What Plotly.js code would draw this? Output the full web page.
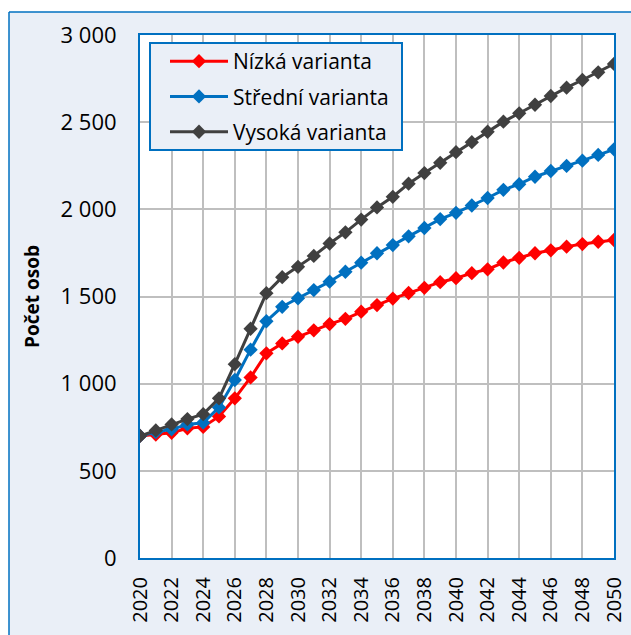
<!DOCTYPE html>
<html>
<head>
<meta charset="utf-8">
<script src="https://cdn.plot.ly/plotly-3.0.1.min.js"></script>
<style>html,body{margin:0;padding:0;background:#fff;}#chart{width:631px;height:635px;}</style>
</head>
<body>
<div id="chart"></div>
<script>
var years = [2020,2021,2022,2023,2024,2025,2026,2027,2028,2029,2030,2031,2032,2033,2034,2035,2036,2037,2038,2039,2040,2041,2042,2043,2044,2045,2046,2047,2048,2049,2050];
var nizka = [700,708,718,744,752,812,916,1036,1174,1231,1269,1306,1342,1372,1413,1451,1488,1520,1550,1582,1605,1634,1656,1695,1722,1748,1765,1786,1801,1814,1824];
var stredni = [700,722,738,766,776,864,1021,1195,1358,1441,1490,1537,1585,1642,1694,1748,1795,1845,1893,1944,1980,2022,2065,2112,2144,2187,2220,2249,2279,2312,2344];
var vysoka = [700,732,766,797,825,916,1112,1315,1519,1611,1670,1733,1804,1868,1941,2011,2072,2147,2208,2267,2328,2385,2445,2503,2551,2600,2650,2698,2742,2786,2834];
var seriesNames = ["Nízká varianta","Střední varianta","Vysoká varianta"];
var seriesColors = ["#FF0000","#0070C0","#404040"];
var yTickVals = [0,500,1000,1500,2000,2500,3000];
var yTickText = ["0","500","1 000","1 500","2 000","2 500","3 000"];

var FONT = "Open Sans, sans-serif";
var data = [nizka, stredni, vysoka].map(function(v,i){
  return {x: years, y: v, type: "scatter", mode: "lines+markers", name: seriesNames[i],
    legendgroup: "g" + i,
    line: {color: seriesColors[i], width: 3},
    marker: {symbol: "diamond", size: 11, color: seriesColors[i]}};
});

// plot area in pixels: x 140..614, y 35..558
var L = 140, R = 614, T = 35, B = 558, W = 631, H = 635;
function px(x){ return (x - L) / (R - L); }
function py(y){ return (B - y) / (B - T); }

var layout = {
  width: W, height: H,
  margin: {l: L, r: W - R, t: T, b: H - B},
  paper_bgcolor: "#EAEFF7",
  plot_bgcolor: "#FFFFFF",
  font: {family: FONT, color: "#000000", size: 20},
  showlegend: true,
  legend: {x: px(165), y: py(41), xanchor: "left", yanchor: "top",
    bgcolor: "rgba(0,0,0,0)", borderwidth: 0, itemwidth: 58,
    font: {family: FONT, size: 21, color: "#000"}, tracegroupgap: 5},
  xaxis: {range: [2020, 2050], tickmode: "linear", tick0: 2020, dtick: 2,
    tickangle: -90, showgrid: true, gridcolor: "#BFBFBF", gridwidth: 2,
    showline: true, mirror: true, linecolor: "#0070C0", linewidth: 2,
    ticks: "", zeroline: false, ticklabelstandoff: 9,
    tickfont: {family: FONT, size: 20, color: "#000"}},
  yaxis: {range: [0, 3000], tickvals: yTickVals, ticktext: yTickText,
    showgrid: true, gridcolor: "#BFBFBF", gridwidth: 2,
    showline: true, mirror: true, linecolor: "#0070C0", linewidth: 2,
    ticks: "", zeroline: false, ticklabelstandoff: 17,
    tickfont: {family: FONT, size: 22, color: "#000"},
    title: {text: "<b>Počet osob</b>", standoff: 16, font: {family: FONT, size: 19, color: "#000"}}},
  shapes: [
    {type: "rect", xref: "paper", yref: "paper", x0: px(-5), x1: px(9), y0: py(H + 5), y1: py(-5), fillcolor: "#FFFFFF", line: {width: 0}, layer: "below"},
    {type: "rect", xref: "paper", yref: "paper", x0: px(-5), x1: px(W + 5), y0: py(12), y1: py(-5), fillcolor: "#FFFFFF", line: {width: 0}, layer: "below"},
    {type: "line", xref: "paper", yref: "paper", x0: px(9), x1: px(W + 5), y0: py(12), y1: py(12), line: {color: "#0070C0", width: 1.5}},
    {type: "line", xref: "paper", yref: "paper", x0: px(9), x1: px(9), y0: py(12), y1: py(H + 5), line: {color: "#0070C0", width: 1.5}},
    {type: "rect", xref: "paper", yref: "paper", x0: px(150), x1: px(402), y0: py(150), y1: py(43), fillcolor: "#EAEFF7", line: {color: "#0070C0", width: 2}, layer: "above"}
  ]
};
Plotly.newPlot("chart", data, layout, {displayModeBar: false, staticPlot: true});
</script>
</body>
</html>
